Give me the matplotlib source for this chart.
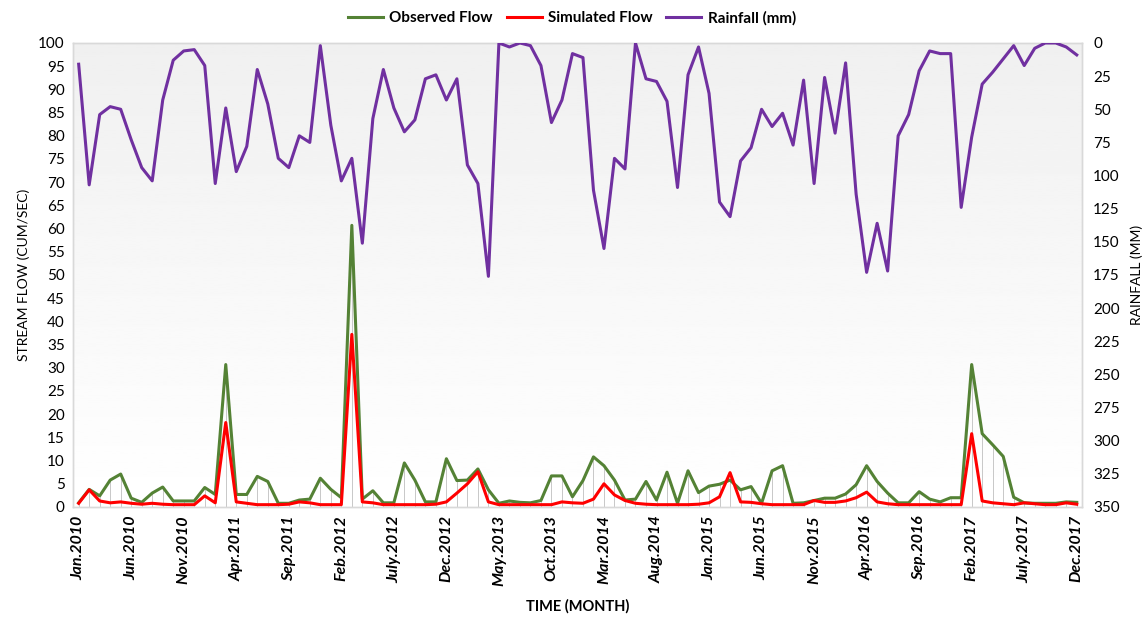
import numpy as np
import pandas as pd
from matplotlib import pyplot as plt

plt.rcParams['font.family'] = ['Lato', 'DejaVu Sans']

# monthly data Jan.2010 - Dec.2017
months = pd.date_range("2010-01-01", "2017-12-01", freq="MS")
month_names = ["Jan.", "Feb.", "Mar.", "Apr.", "May.", "Jun.",
               "July.", "Aug.", "Sep.", "Oct.", "Nov.", "Dec."]

observed = [0.9, 3.8, 2.4, 5.8, 7.1, 1.9, 1.0, 3.0, 4.3, 1.3, 1.3, 1.3,
            4.2, 2.7, 30.7, 2.7, 2.7, 6.6, 5.5, 0.8, 0.8, 1.5, 1.7, 6.2,
            3.8, 2.0, 60.7, 1.7, 3.5, 0.9, 0.9, 9.5, 5.8, 1.1, 1.1, 10.4,
            5.7, 5.8, 8.2, 3.7, 0.8, 1.3, 1.0, 0.9, 1.4, 6.7, 6.7, 2.2,
            5.7, 10.8, 8.9, 5.8, 1.5, 1.7, 5.5, 1.5, 7.5, 0.8, 7.8, 3.1,
            4.5, 4.9, 5.8, 3.7, 4.4, 0.8, 7.8, 8.9, 0.8, 0.9, 1.4, 1.9,
            1.9, 2.8, 4.8, 8.9, 5.5, 3.0, 0.9, 0.9, 3.3, 1.7, 1.1, 2.0,
            2.0, 30.7, 15.8, 13.4, 10.9, 2.1, 0.9, 0.8, 0.8, 0.8, 1.1, 1.0]

simulated = [0.8, 3.7, 1.3, 0.9, 1.1, 0.8, 0.6, 0.8, 0.6, 0.5, 0.5, 0.5,
             2.4, 0.9, 18.2, 1.1, 0.8, 0.5, 0.5, 0.5, 0.6, 1.1, 0.9, 0.5,
             0.5, 0.5, 37.2, 1.1, 0.9, 0.5, 0.5, 0.5, 0.5, 0.5, 0.6, 1.1,
             3.0, 5.0, 7.6, 1.1, 0.5, 0.5, 0.5, 0.5, 0.5, 0.5, 1.1, 0.9,
             0.8, 1.7, 5.0, 2.6, 1.4, 0.8, 0.6, 0.5, 0.5, 0.5, 0.5, 0.6,
             0.9, 2.2, 7.4, 1.1, 1.0, 0.7, 0.5, 0.5, 0.5, 0.5, 1.4, 1.0,
             1.0, 1.3, 2.0, 3.2, 1.1, 0.7, 0.5, 0.5, 0.5, 0.5, 0.5, 0.5,
             0.5, 15.8, 1.3, 0.9, 0.7, 0.5, 0.9, 0.7, 0.5, 0.5, 0.9, 0.6]

rainfall = [16, 107, 54, 48, 50, 73, 94, 104, 43, 13, 6, 5,
            17, 106, 49, 97, 78, 20, 46, 87, 94, 70, 75, 2,
            62, 104, 87, 151, 57, 20, 49, 67, 58, 27, 24, 43,
            27, 92, 106, 176, 0, 3, 0, 2, 17, 60, 43, 8,
            11, 111, 155, 87, 95, 0, 27, 29, 44, 109, 24, 3,
            38, 120, 131, 89, 79, 50, 63, 53, 77, 28, 106, 26,
            68, 15, 114, 173, 136, 172, 70, 54, 21, 6, 8, 8,
            124, 71, 31, 22, 12, 2, 17, 4, 0, 0, 3, 9]

x = np.arange(len(months))
tick_idx = x[::5]
tick_labels = [month_names[months[i].month - 1] + str(months[i].year) for i in tick_idx]

fig = plt.figure(figsize=(11.44, 6.18), dpi=100)
ax = fig.add_axes([73 / 1144, 1 - 507 / 618, (1082 - 73) / 1144, (507 - 43) / 618])
ax2 = ax.twinx()

xmin, xmax = -0.54, 95.5
ax.set_xlim(xmin, xmax)
ax.set_ylim(0, 100)

# background gradient (white -> light gray)
grad = np.linspace(1.0, 0.94, 256).reshape(-1, 1)
ax.imshow(grad, extent=[xmin, xmax, 100, 0], aspect='auto', cmap='gray',
          vmin=0, vmax=1, zorder=0)
ax.set_ylim(0, 100)

# drop lines
top = np.maximum(observed, simulated)
ax.vlines(x, 0, top, color='#c8c8c8', lw=0.7, zorder=1)

ax.plot(x, observed, color='#548235', lw=2.2, label='Observed Flow', zorder=3)
ax.plot(x, simulated, color='#ff0000', lw=2.2, label='Simulated Flow', zorder=4)
ax2.plot(x, rainfall, color='#7030a0', lw=2.2, label='Rainfall (mm)', zorder=3)

ax2.set_ylim(350, 0)
ax2.set_xlim(xmin, xmax)

ax.set_yticks(np.arange(0, 101, 5))
ax2.set_yticks(np.arange(0, 351, 25))
ax.set_xticks(tick_idx)
ax.set_xticklabels(tick_labels, rotation=90, fontweight='bold', fontstyle='italic',
                   fontsize=11.5, color='#000000')
ax.tick_params(axis='x', length=0, pad=6)
ax.tick_params(axis='y', length=0, labelsize=11, pad=6)
ax2.tick_params(axis='y', length=0, labelsize=11, pad=8)

for a in (ax, ax2):
    for s in a.spines.values():
        s.set_color('#d9d9d9')
        s.set_linewidth(1)

ax.set_ylabel('STREAM FLOW (CUM/SEC)', fontsize=10, labelpad=6)
ax2.set_ylabel('RAINFALL (MM)', fontsize=10, labelpad=8)
ax.set_xlabel('TIME (MONTH)', fontsize=10.5, fontweight='bold', labelpad=9)

h1, l1 = ax.get_legend_handles_labels()
h2, l2 = ax2.get_legend_handles_labels()
leg = fig.legend(h1 + h2, l1 + l2, loc='upper center', bbox_to_anchor=(0.5, 1.005),
                 ncol=3, frameon=False, handlelength=2.3, handletextpad=0.4,
                 columnspacing=0.9, prop={'weight': 'bold', 'size': 11})

fig.savefig('out.png', dpi=100)
